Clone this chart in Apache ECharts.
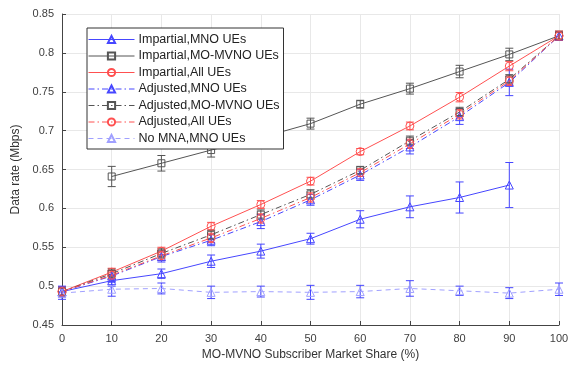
<!DOCTYPE html>
<html>
<head>
<meta charset="utf-8">
<script src="https://cdn.jsdelivr.net/npm/echarts@6/dist/echarts.min.js"></script>
<style>
  html, body { margin: 0; padding: 0; background: #fff; }
  #chart { width: 572px; height: 368px; }
</style>
</head>
<body>
<div id="chart"></div>
<script>
var shares = [0, 10, 20, 30, 40, 50, 60, 70, 80, 90, 100];

var impMNO = [0.493, 0.507, 0.516, 0.532, 0.545, 0.561, 0.586, 0.602, 0.614, 0.630, null];
var impMNOErr = [0.006, 0.007, 0.006, 0.008, 0.009, 0.007, 0.011, 0.014, 0.020, 0.029, 0];
var impMO = [null, 0.641, 0.658, 0.675, 0.691, 0.709, 0.734, 0.754, 0.776, 0.798, 0.822];
var impMOErr = [0, 0.013, 0.010, 0.009, 0.008, 0.007, 0.005, 0.007, 0.008, 0.008, 0.006];
var impAll = [0.493, 0.518, 0.545, 0.577, 0.605, 0.635, 0.673, 0.706, 0.743, 0.783, 0.822];
var impAllErr = [0.006, 0.005, 0.005, 0.005, 0.005, 0.005, 0.004, 0.005, 0.006, 0.006, 0.006];
var adjMNO = [0.493, 0.513, 0.538, 0.559, 0.583, 0.611, 0.643, 0.679, 0.718, 0.762, 0.822];
var adjMNOErr = [0.007, 0.007, 0.007, 0.007, 0.009, 0.007, 0.007, 0.009, 0.010, 0.017, 0.005];
var adjMO = [0.493, 0.516, 0.542, 0.566, 0.592, 0.618, 0.649, 0.687, 0.724, 0.766, 0.822];
var adjMOErr = [0.006, 0.006, 0.006, 0.006, 0.006, 0.006, 0.005, 0.006, 0.006, 0.006, 0.005];
var adjAll = [0.493, 0.514, 0.539, 0.562, 0.587, 0.614, 0.646, 0.683, 0.721, 0.764, 0.822];
var adjAllErr = [0.006, 0.006, 0.006, 0.006, 0.006, 0.006, 0.005, 0.006, 0.006, 0.006, 0.005];
var noMNA = [0.491, 0.496, 0.497, 0.492, 0.493, 0.492, 0.493, 0.497, 0.494, 0.491, 0.496];
var noMNAErr = [0.008, 0.009, 0.007, 0.008, 0.007, 0.009, 0.008, 0.010, 0.006, 0.007, 0.008];

var blue = '#4646ff';
var gray = '#555555';
var red = '#ff5050';
var lightBlue = '#a0a0ff';
var dashDot = [6, 3, 1.5, 3];

function lineSeries(name, vals, color, symbol, dash) {
  return {
    name: name,
    type: 'line',
    data: shares.map(function (x, i) { return [x, vals[i]]; }),
    symbol: symbol,
    symbolSize: symbol === 'rect' ? 7 : 8,
    connectNulls: false,
    z: 3,
    lineStyle: { color: color, width: 1, type: dash },
    itemStyle: { color: 'rgba(255,255,255,0)', borderColor: color, borderWidth: 1 }
  };
}

function errSeries(name, vals, errs, color) {
  var pts = [];
  shares.forEach(function (x, i) {
    if (vals[i] != null) pts.push([x, vals[i] - errs[i], vals[i] + errs[i]]);
  });
  return {
    name: name,
    type: 'custom',
    data: pts,
    z: 2,
    renderItem: function (params, api) {
      var lo = api.coord([api.value(0), api.value(1)]);
      var hi = api.coord([api.value(0), api.value(2)]);
      var w = 4;
      var st = { stroke: color, lineWidth: 1 };
      return {
        type: 'group',
        children: [
          { type: 'line', shape: { x1: lo[0], y1: lo[1], x2: hi[0], y2: hi[1] }, style: st },
          { type: 'line', shape: { x1: lo[0] - w, y1: lo[1], x2: lo[0] + w, y2: lo[1] }, style: st },
          { type: 'line', shape: { x1: hi[0] - w, y1: hi[1], x2: hi[0] + w, y2: hi[1] }, style: st }
        ]
      };
    }
  };
}

var names = ['Impartial,MNO UEs', 'Impartial,MO-MVNO UEs', 'Impartial,All UEs',
  'Adjusted,MNO UEs', 'Adjusted,MO-MVNO UEs', 'Adjusted,All UEs', 'No MNA,MNO UEs'];
var colors = [blue, gray, red, blue, gray, red, lightBlue];

var axisText = { color: '#404040', fontSize: 11, fontFamily: 'Liberation Sans' };

var option = {
  animation: false,
  grid: { left: 62, right: 13, top: 14, bottom: 43 },
  legend: {
    data: names.map(function (n, i) {
      return { name: n, lineStyle: { color: colors[i], width: 1 } };
    }),
    orient: 'vertical',
    left: 87,
    top: 28,
    itemWidth: 46,
    itemHeight: 9,
    itemGap: 3.5,
    padding: [5, 4, 4, 1],
    backgroundColor: '#fff',
    borderColor: '#333',
    borderWidth: 1,
    textStyle: { color: '#222', fontSize: 12.5, fontFamily: 'Liberation Sans', padding: [0, 0, 0, -1] }
  },
  xAxis: {
    type: 'value',
    min: 0, max: 100, interval: 10,
    name: 'MO-MVNO Subscriber Market Share (%)',
    nameLocation: 'middle',
    nameGap: 23,
    nameTextStyle: { color: '#333', fontSize: 12, fontFamily: 'Liberation Sans' },
    axisLine: { lineStyle: { color: '#444' } },
    axisTick: { inside: true, length: 4, lineStyle: { color: '#444' } },
    axisLabel: axisText,
    splitLine: { lineStyle: { color: '#e8e8e8' } }
  },
  yAxis: {
    type: 'value',
    min: 0.45, max: 0.85, interval: 0.05,
    name: 'Data rate (Mbps)',
    nameLocation: 'middle',
    nameGap: 37,
    nameTextStyle: { color: '#333', fontSize: 12, fontFamily: 'Liberation Sans' },
    axisLine: { show: true, lineStyle: { color: '#444' } },
    axisTick: { show: true, inside: true, length: 4, lineStyle: { color: '#444' } },
    axisLabel: Object.assign({ formatter: function (v) { return String(+v.toFixed(2)); } }, axisText),
    splitLine: { lineStyle: { color: '#e8e8e8' } }
  },
  series: [
    lineSeries(names[0], impMNO, blue, 'triangle', 'solid'),
    lineSeries(names[1], impMO, gray, 'rect', 'solid'),
    lineSeries(names[2], impAll, red, 'circle', 'solid'),
    lineSeries(names[3], adjMNO, blue, 'triangle', dashDot),
    lineSeries(names[4], adjMO, gray, 'rect', dashDot),
    lineSeries(names[5], adjAll, red, 'circle', dashDot),
    lineSeries(names[6], noMNA, lightBlue, 'triangle', [5, 4]),
    errSeries(names[0], impMNO, impMNOErr, blue),
    errSeries(names[1], impMO, impMOErr, gray),
    errSeries(names[2], impAll, impAllErr, red),
    errSeries(names[3], adjMNO, adjMNOErr, blue),
    errSeries(names[4], adjMO, adjMOErr, gray),
    errSeries(names[5], adjAll, adjAllErr, red),
    errSeries(names[6], noMNA, noMNAErr, blue)
  ]
};

var myChart = echarts.init(document.getElementById('chart'));
myChart.setOption(option);
</script>
</body>
</html>
